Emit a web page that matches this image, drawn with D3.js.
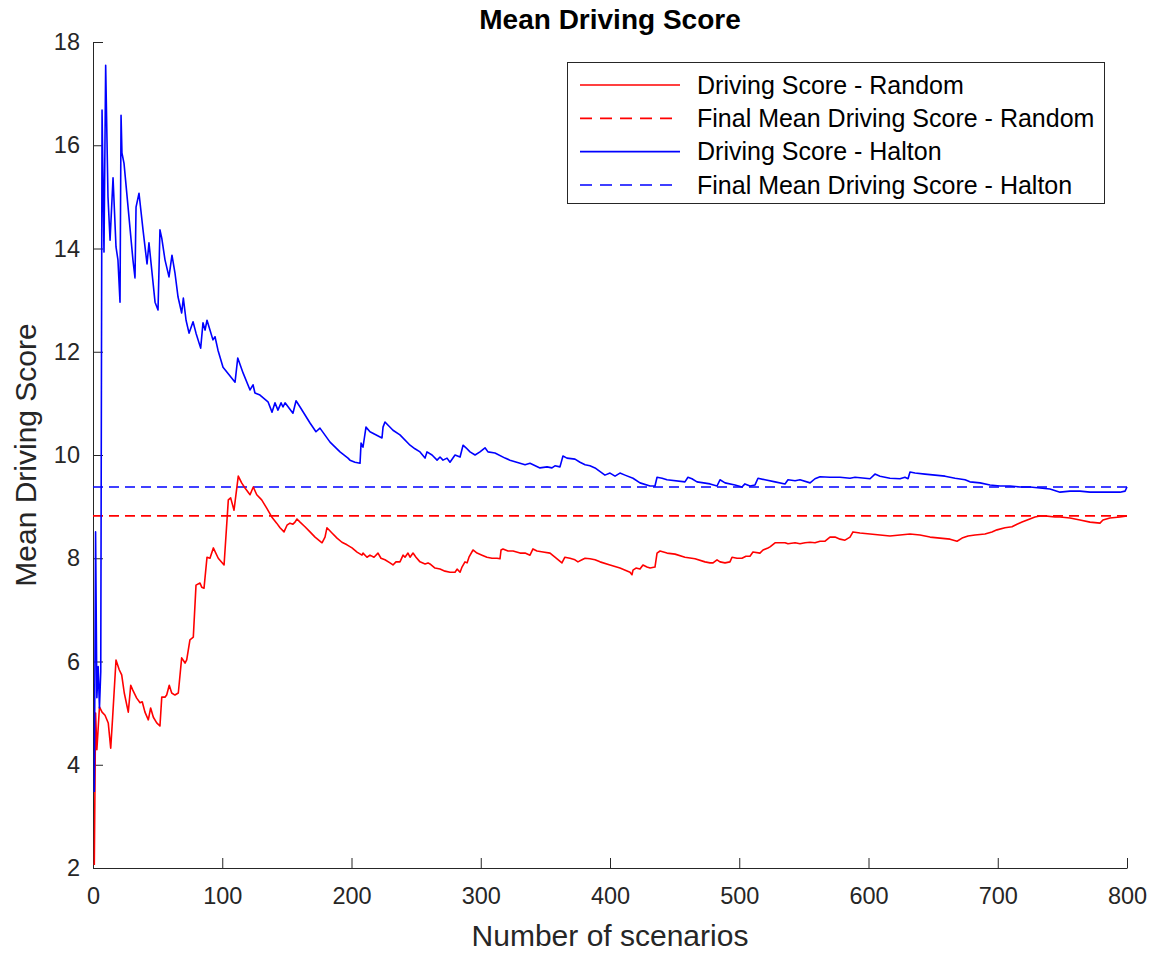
<!DOCTYPE html>
<html>
<head>
<meta charset="utf-8">
<script src="https://cdn.jsdelivr.net/npm/d3@7"></script>
<style>
  html, body { margin: 0; padding: 0; background: #fff; }
  text { font-family: "Liberation Sans", Arial, Helvetica, sans-serif; }
</style>
</head>
<body>
<script>
// Running mean of the driving score over the evaluated scenarios
const randomX = [1, 2, 3, 5, 7, 9.3, 11.8, 13.7, 15.2, 17.8, 20.3, 22.2, 24.2, 27.3, 29.2, 30.7, 33.8, 36.4, 38.1, 40.2,
  42.8, 44.6, 46.7, 49.3, 51.8, 53.2, 55.7, 57.0, 59.0, 60.9, 63.4, 66.0, 68.6, 71.2, 72.5, 75.0, 77.6, 79.7, 82.8, 84.1,
  85.9, 88.2, 90.5, 93.1, 96.9, 101.4, 104.7, 106.5, 109.1, 112.4, 115.0, 117.6, 121.5, 124.0, 126.7, 130.5, 134.4, 138.3, 142.1, 144.7,
  147.8, 150.1, 152.4, 154.7, 156.3, 157.8, 160.2, 164.0, 167.9, 171.8, 177.2, 179.5, 181.0, 184.9, 188.8, 192.6, 196.5, 200.4, 204.3, 208.1,
  208.9, 212.0, 214.3, 217.4, 220.5, 222.8, 225.9, 229.8, 232.1, 234.4, 237.5, 239.9, 241.4, 243.7, 245.3, 247.6, 249.9, 253.0, 256.9, 259.2,
  260.7, 264.6, 268.5, 272.3, 276.2, 280.1, 281.7, 284.0, 285.5, 287.8, 289.4, 290.9, 294.0, 297.1, 301.0, 304.8, 308.7, 312.6, 314.9, 315.7,
  317.2, 321.1, 325.0, 330.4, 334.3, 338.1, 340.4, 343.5, 348.2, 353.6, 357.4, 362.8, 365.1, 369.0, 372.9, 375.2, 378.3, 380.7, 384.5, 388.4,
  392.3, 400.0, 407.7, 415.5, 417.0, 417.8, 420.1, 423.2, 425.5, 428.6, 431.0, 434.8, 436.4, 438.7, 444.1, 450.3, 458.0, 465.8, 473.5, 477.4,
  479.7, 482.8, 485.1, 489.0, 492.8, 494.4, 498.3, 502.1, 505.2, 508.3, 510.6, 516.0, 518.4, 522.2, 523.8, 527.7, 531.6, 535.4, 537.7, 543.2,
  547.0, 550.9, 554.8, 558.6, 562.5, 566.4, 570.2, 574.1, 578.0, 581.8, 585.7, 588.0, 593.4, 601.2, 608.9, 616.6, 624.4, 632.1, 639.8, 647.6,
  655.3, 663.1, 668.5, 672.4, 677.0, 682.4, 690.1, 695.5, 699.4, 705.6, 711.0, 714.9, 718.8, 728.8, 732.7, 736.6, 744.3, 748.2, 755.9, 763.6,
  771.4, 779.1, 781.4, 786.8, 794.6, 800];
const randomY = [2.06, 5.00, 4.29, 5.12, 5.02, 4.96, 4.81, 4.32, 4.92, 6.03, 5.84, 5.74, 5.39, 5.02, 5.54, 5.45, 5.29, 5.20, 5.22, 5.02,
  4.87, 5.10, 4.92, 4.81, 4.75, 5.31, 5.31, 5.35, 5.54, 5.39, 5.35, 5.39, 6.07, 5.97, 6.03, 6.42, 6.47, 7.48, 7.52, 7.44,
  7.42, 8.02, 8.00, 8.20, 8.00, 7.87, 9.13, 9.17, 8.93, 9.59, 9.46, 9.36, 9.23, 9.38, 9.23, 9.13, 8.97, 8.80, 8.68, 8.59,
  8.51, 8.64, 8.68, 8.66, 8.70, 8.76, 8.70, 8.61, 8.51, 8.41, 8.30, 8.41, 8.59, 8.49, 8.39, 8.31, 8.26, 8.20, 8.12, 8.06,
  8.10, 8.02, 8.06, 8.02, 8.10, 8.00, 7.97, 7.91, 7.87, 7.93, 7.93, 8.06, 8.02, 8.10, 8.02, 8.10, 8.02, 7.93, 7.89, 7.91,
  7.89, 7.81, 7.79, 7.75, 7.73, 7.73, 7.79, 7.73, 7.83, 7.93, 7.91, 8.02, 8.16, 8.10, 8.06, 8.02, 8.00, 8.00, 7.99, 8.16,
  8.18, 8.14, 8.14, 8.10, 8.10, 8.06, 8.18, 8.14, 8.12, 8.10, 8.02, 7.91, 8.02, 8.00, 7.97, 7.93, 7.97, 8.00, 7.99, 7.97,
  7.93, 7.87, 7.81, 7.73, 7.68, 7.77, 7.81, 7.79, 7.87, 7.83, 7.81, 7.83, 8.10, 8.14, 8.10, 8.08, 8.02, 7.99, 7.93, 7.91,
  7.91, 7.97, 7.93, 7.91, 7.93, 8.02, 8.00, 8.00, 8.04, 8.04, 8.12, 8.10, 8.16, 8.20, 8.22, 8.30, 8.30, 8.30, 8.28, 8.30,
  8.28, 8.30, 8.31, 8.30, 8.33, 8.33, 8.41, 8.41, 8.37, 8.35, 8.41, 8.51, 8.49, 8.47, 8.45, 8.43, 8.45, 8.47, 8.45, 8.41,
  8.39, 8.37, 8.33, 8.39, 8.43, 8.45, 8.47, 8.51, 8.55, 8.59, 8.61, 8.66, 8.70, 8.80, 8.82, 8.82, 8.80, 8.80, 8.78, 8.74,
  8.70, 8.68, 8.74, 8.78, 8.80, 8.82];

const haltonX = [1, 2, 3, 4, 5, 6, 7, 8.5, 9.8, 11.6, 13.2, 15.5, 17.8, 19.3, 20.9, 21.7, 22.4, 24.0, 30.9, 32.5,
  33.3, 35.6, 38.7, 41.8, 43.3, 48.0, 50.3, 51.8, 53.2, 55.7, 58.8, 61.1, 63.4, 65.8, 68.6, 69.9, 72.0, 74.3, 77.4, 79.7,
  83.3, 85.1, 86.7, 88.2, 90.5, 92.8, 94.4, 96.7, 100.6, 109.9, 112.0, 116.1, 121.5, 123.8, 125.3, 129.2, 135.4, 138.5, 140.8, 143.1,
  145.5, 147.0, 148.6, 154.7, 157.1, 160.2, 167.9, 172.5, 175.6, 183.4, 191.1, 197.3, 198.8, 202.7, 206.6, 207.4, 208.9, 211.2, 214.3, 222.1,
  223.6, 224.4, 225.9, 232.1, 237.5, 245.3, 249.1, 253.0, 256.9, 258.4, 262.3, 266.2, 268.5, 270.8, 273.9, 276.2, 280.1, 284.0, 286.3, 288.6,
  291.7, 295.6, 299.4, 303.3, 305.6, 311.0, 318.8, 322.6, 330.4, 334.3, 338.1, 345.8, 351.3, 355.1, 357.4, 361.3, 363.6, 366.7, 372.9, 376.8,
  380.7, 384.5, 388.4, 396.1, 400.0, 403.9, 407.7, 411.6, 417.8, 423.2, 431.0, 434.8, 436.4, 440.3, 444.1, 458.0, 460.3, 463.4, 467.3, 477.4,
  482.8, 485.1, 489.0, 496.7, 502.1, 504.4, 508.3, 512.2, 514.5, 519.9, 527.7, 535.4, 537.7, 543.2, 547.0, 554.8, 558.6, 562.5, 570.2, 578.0,
  585.7, 589.6, 601.2, 605.0, 608.9, 616.6, 624.4, 628.2, 630.6, 632.1, 636.0, 643.7, 651.5, 659.2, 667.0, 674.7, 678.5, 686.3, 694.0, 701.8,
  709.5, 717.2, 725.0, 732.7, 740.4, 748.2, 755.9, 763.6, 771.4, 779.1, 786.8, 794.6, 798.5, 800];
const haltonY = [3.47, 8.51, 5.30, 5.90, 5.10, 5.80, 16.68, 13.93, 17.55, 15.00, 14.16, 15.37, 14.03, 13.78, 12.96, 16.58, 15.85, 15.65, 13.78, 13.43,
  14.80, 15.07, 14.36, 13.70, 14.11, 12.96, 12.81, 14.36, 14.20, 13.78, 13.45, 13.87, 13.53, 13.06, 12.75, 13.04, 12.61, 12.36, 12.58, 12.36,
  12.07, 12.56, 12.42, 12.61, 12.42, 12.23, 12.29, 12.03, 11.70, 11.41, 11.88, 11.59, 11.26, 11.36, 11.20, 11.16, 11.03, 10.83, 11.01, 10.87,
  11.01, 10.93, 11.01, 10.81, 11.05, 10.93, 10.62, 10.45, 10.52, 10.25, 10.06, 9.94, 9.90, 9.86, 9.84, 10.23, 10.15, 10.54, 10.45, 10.35,
  10.33, 10.54, 10.64, 10.48, 10.39, 10.19, 10.12, 10.06, 9.94, 10.06, 10.00, 9.90, 9.96, 9.90, 9.94, 9.86, 10.00, 9.96, 10.19, 10.14,
  10.06, 10.00, 10.06, 10.14, 10.06, 10.04, 9.94, 9.90, 9.84, 9.81, 9.84, 9.75, 9.77, 9.75, 9.79, 9.77, 9.98, 9.94, 9.92, 9.86,
  9.81, 9.79, 9.75, 9.61, 9.65, 9.59, 9.65, 9.61, 9.55, 9.46, 9.40, 9.40, 9.57, 9.55, 9.52, 9.48, 9.57, 9.54, 9.48, 9.44,
  9.40, 9.52, 9.46, 9.42, 9.38, 9.44, 9.40, 9.42, 9.55, 9.52, 9.48, 9.44, 9.52, 9.50, 9.52, 9.46, 9.54, 9.58, 9.57, 9.57,
  9.55, 9.57, 9.54, 9.63, 9.59, 9.55, 9.54, 9.57, 9.54, 9.67, 9.65, 9.63, 9.61, 9.59, 9.55, 9.52, 9.48, 9.46, 9.42, 9.40,
  9.40, 9.38, 9.38, 9.36, 9.34, 9.28, 9.30, 9.30, 9.28, 9.28, 9.28, 9.28, 9.30, 9.38];

// Final means of each sampling method
const finalRandom = 8.82;
const finalHalton = 9.38;

const xTicks = [0, 100, 200, 300, 400, 500, 600, 700, 800];
const yTicks = [2, 4, 6, 8, 10, 12, 14, 16, 18];

const legendLabels = [
  "Driving Score - Random",
  "Final Mean Driving Score - Random",
  "Driving Score - Halton",
  "Final Mean Driving Score - Halton"
];

const W = 1163, H = 957;
const axisColor = "#262626";
const red = "#ff0000", blue = "#0000ff";
const lineWidth = 1.6;

const svg = d3.select("body").append("svg")
  .attr("width", W).attr("height", H);

const x = d3.scaleLinear().domain([0, 800]).range([93, 1127]);
const y = d3.scaleLinear().domain([2, 18]).range([868, 42]);

// Axes with inward ticks
const xAxis = svg.append("g")
  .attr("transform", `translate(0,${y(2)})`)
  .call(d3.axisBottom(x).tickValues(xTicks).tickSizeInner(-10).tickSizeOuter(0).tickPadding(19).tickFormat(d3.format("d")));
const yAxis = svg.append("g")
  .attr("transform", `translate(${x(0)},0)`)
  .call(d3.axisLeft(y).tickValues(yTicks).tickSizeInner(-10).tickSizeOuter(0).tickPadding(13).tickFormat(d3.format("d")));

[xAxis, yAxis].forEach(g => {
  g.select(".domain").attr("stroke", axisColor).attr("stroke-width", 1);
  g.selectAll(".tick line").attr("stroke", axisColor).attr("stroke-width", 1);
  g.selectAll(".tick text").attr("fill", axisColor)
    .style("font-size", "23.5px").style("font-family", "'Liberation Sans', Arial, sans-serif");
});

// Reference lines for the final means
svg.append("line")
  .attr("x1", x(0)).attr("x2", x(800))
  .attr("y1", y(finalRandom)).attr("y2", y(finalRandom))
  .attr("stroke", red).attr("stroke-width", lineWidth).attr("stroke-dasharray", "10,6");
svg.append("line")
  .attr("x1", x(0)).attr("x2", x(800))
  .attr("y1", y(finalHalton)).attr("y2", y(finalHalton))
  .attr("stroke", blue).attr("stroke-width", lineWidth).attr("stroke-dasharray", "10,6");

const line = d3.line().x(d => x(d[0])).y(d => y(d[1]));

svg.append("path")
  .datum(randomX.map((v, i) => [v, randomY[i]]))
  .attr("d", line)
  .attr("fill", "none").attr("stroke", red).attr("stroke-width", lineWidth)
  .attr("stroke-linejoin", "round");

svg.append("path")
  .datum(haltonX.map((v, i) => [v, haltonY[i]]))
  .attr("d", line)
  .attr("fill", "none").attr("stroke", blue).attr("stroke-width", lineWidth)
  .attr("stroke-linejoin", "round");

// Title and axis labels
svg.append("text")
  .attr("x", 610).attr("y", 29)
  .attr("text-anchor", "middle")
  .style("font-size", "28px").style("font-weight", "bold").attr("fill", "#000")
  .text("Mean Driving Score");

svg.append("text")
  .attr("x", 610).attr("y", 946)
  .attr("text-anchor", "middle")
  .style("font-size", "30px").attr("fill", axisColor)
  .text("Number of scenarios");

svg.append("text")
  .attr("transform", "translate(36,455) rotate(-90)")
  .attr("text-anchor", "middle")
  .style("font-size", "30px").attr("fill", axisColor)
  .text("Mean Driving Score");

// Legend
const legend = svg.append("g");
legend.append("rect")
  .attr("x", 567.5).attr("y", 62.5).attr("width", 537).attr("height", 141)
  .attr("fill", "#fff").attr("stroke", axisColor).attr("stroke-width", 1);

const legendStyles = [
  { color: red, dash: null },
  { color: red, dash: "12,8" },
  { color: blue, dash: null },
  { color: blue, dash: "12,8" }
];
const rowY = d3.scalePoint().domain(d3.range(4)).range([85, 185]);

legendLabels.forEach((label, i) => {
  const yy = rowY(i);
  legend.append("line")
    .attr("x1", 580).attr("x2", 680).attr("y1", yy).attr("y2", yy)
    .attr("stroke", legendStyles[i].color).attr("stroke-width", lineWidth)
    .attr("stroke-dasharray", legendStyles[i].dash);
  legend.append("text")
    .attr("x", 697).attr("y", yy).attr("dy", "0.35em")
    .style("font-size", "25px").attr("fill", "#000")
    .text(label);
});
</script>
</body>
</html>
